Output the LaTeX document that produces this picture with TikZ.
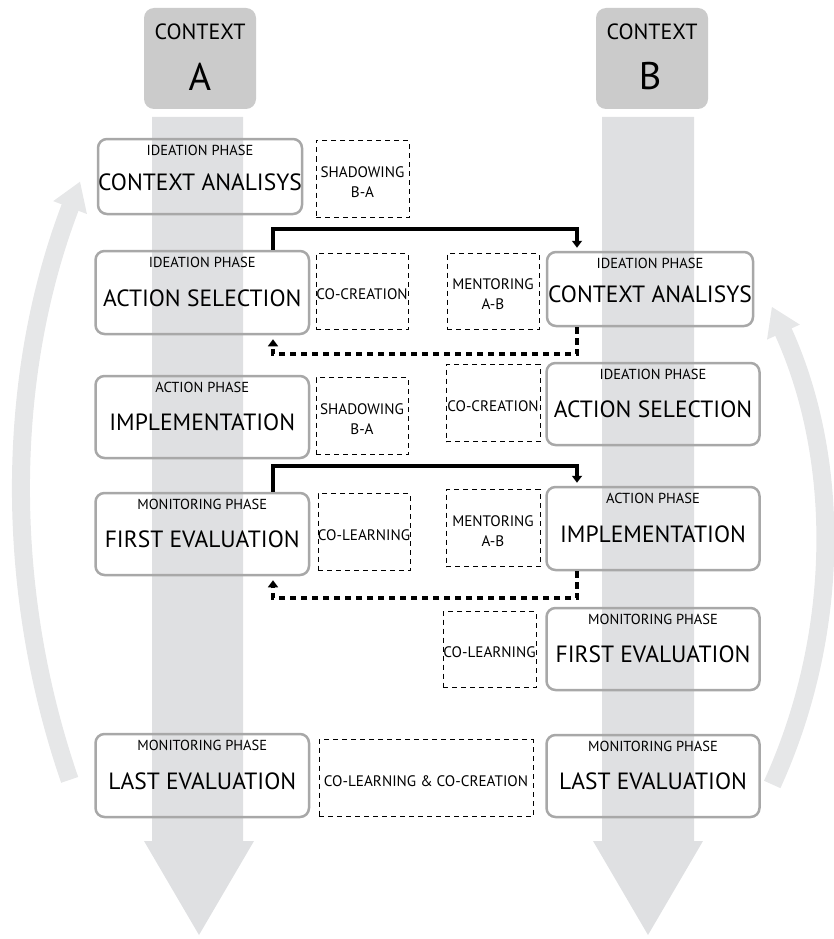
\documentclass[tikz,border=0pt]{standalone}
\usepackage{fontspec}
\setmainfont{PT Sans}
\usetikzlibrary{arrows.meta}
\definecolor{shaft}{HTML}{DFE0E2}
\definecolor{ctxfill}{HTML}{CBCBCB}
\definecolor{curvecol}{HTML}{E6E7E8}
\definecolor{pborder}{HTML}{A8A8A8}
\tikzset{
 pbox/.style={draw=pborder, line width=2.5pt, rounded corners=9pt, inner sep=0pt},
 smalltxt/.style={inner sep=0pt, font=\fontsize{14.5}{17}\selectfont},
 bigtxt/.style={inner sep=0pt, font=\fontsize{23.5}{28}\selectfont},
 dbox/.style={draw=black, line width=1pt, dash pattern=on 5pt off 4pt, inner sep=0pt},
 dtxt/.style={inner sep=0pt, align=center, font=\fontsize{15.2}{20}\selectfont},
 solidc/.style={line width=3.8pt, -{Triangle[width=10pt,length=7pt]}, shorten >=3pt},
 dashc/.style={line width=4.2pt, dash pattern=on 6.5pt off 4.5pt, -{Triangle[width=10pt,length=7pt]}, shorten >=4pt},
 ctx/.style={fill=ctxfill, rounded corners=10pt, inner sep=0pt},
 curvearrow/.style={draw=curvecol, line width=18pt, -{Triangle[width=34pt,length=28pt]}}
}
\newcommand\phbox[7]{%
  \node[pbox, minimum width={#4-#2}, minimum height={#5-#3}] (#1) at ({(#2+#4)/2},{(#3+#5)/2}) {};
  \node[smalltxt] (#1s) at ([yshift=-13pt]#1.north) {#6};
  \node[bigtxt] (#1b) at ([yshift=-5.5pt]#1.center) {#7};
}
\newcommand\dshbox[6]{%
  \node[dbox, minimum width={#4-#2}, minimum height={#5-#3}] (#1) at ({(#2+#4)/2},{(#3+#5)/2}) {};
  \node[dtxt] (#1t) at ([yshift=-3pt]#1.center) {#6};
}
\begin{document}
\begin{tikzpicture}[x=1pt,y=-1pt]
\useasboundingbox (0,0) rectangle (834,939);
% vertical shafts
\fill[shaft] (152,117) -- (243,117) -- (243,841) -- (254,841) -- (199,935) -- (144,841) -- (152,841) -- cycle;
\fill[shaft] (602,117) -- (694,117) -- (694,841) -- (703,841) -- (648,935) -- (593,841) -- (602,841) -- cycle;
% curved arrows
\draw[curvearrow] (897,495) ++(161:875) arc[start angle=161, end angle=201, radius=875];
\draw[curvearrow] (249,546) ++(24.5:575) arc[start angle=24.5, end angle=-24.6, radius=575];
% context headers
\node[ctx, minimum width=112pt, minimum height=101pt] (ctxA) at (200,58.5) {};
\node[inner sep=0pt, font=\fontsize{22}{26}\selectfont] (ctxAt) at (200,32) {CONTEXT};
\node[inner sep=0pt, font=\fontsize{38.5}{44}\selectfont] (ctxAl) at (200,76.5) {A};
\node[ctx, minimum width=112pt, minimum height=101pt] (ctxB) at (652,58.5) {};
\node[inner sep=0pt, font=\fontsize{22}{26}\selectfont] (ctxBt) at (652,32) {CONTEXT};
\node[inner sep=0pt, font=\fontsize{38.5}{44}\selectfont] (ctxBl) at (650,76.5) {B};
% phase boxes A
\phbox{caA}{98}{139}{302}{214}{IDEATION PHASE}{CONTEXT ANALISYS}
\phbox{asA}{95.5}{251}{309}{334}{IDEATION PHASE}{ACTION SELECTION}
\phbox{imA}{95.5}{376}{309}{458}{ACTION PHASE}{IMPLEMENTATION}
\phbox{fiA}{95.5}{493}{309}{575}{MONITORING PHASE}{FIRST EVALUATION}
\phbox{leA}{95.5}{734}{309}{817}{MONITORING PHASE}{LAST EVALUATION}
% phase boxes B
\phbox{caB}{547}{252}{753}{326}{IDEATION PHASE}{CONTEXT ANALISYS}
\phbox{asB}{546.5}{363}{759.5}{445}{IDEATION PHASE}{ACTION SELECTION}
\phbox{imB}{546.5}{487}{759.5}{570}{ACTION PHASE}{IMPLEMENTATION}
\phbox{fiB}{546.5}{608}{759.5}{690}{MONITORING PHASE}{FIRST EVALUATION}
\phbox{leB}{546.5}{735}{759.5}{817}{MONITORING PHASE}{LAST EVALUATION}
% dashed boxes
\dshbox{d1}{316}{140.5}{409}{217.5}{SHADOWING\\B-A}
\dshbox{d2}{316}{253.5}{408}{329.5}{CO-CREATION}
\dshbox{d3}{447}{253.5}{539}{329.5}{MENTORING\\A-B}
\dshbox{d4}{316}{377.5}{408}{454.5}{SHADOWING\\B-A}
\dshbox{d5}{446}{364.5}{540}{441.5}{CO-CREATION}
\dshbox{d6}{318}{493.5}{410}{570.5}{CO-LEARNING}
\dshbox{d7}{446}{489.5}{540}{566.5}{MENTORING\\A-B}
\dshbox{d8}{443}{611.5}{536}{687.5}{CO-LEARNING}
\dshbox{d9}{319}{739.5}{533}{816.5}{CO-LEARNING \& CO-CREATION}
% connectors
\coordinate (xa) at (273,0);
\coordinate (xb) at (577,0);
\draw[solidc] (asA.north -| xa) -- ++(0,-21) -| (caB.north -| xb);
\draw[dashc] (caB.south -| xb) -- ++(0,27) -| (asA.south -| xa);
\draw[solidc] (fiA.north -| xa) -- ++(0,-26) -| (imB.north -| xb);
\draw[dashc] (imB.south -| xb) -- ++(0,27) -| (fiA.south -| xa);
\end{tikzpicture}
\end{document}
